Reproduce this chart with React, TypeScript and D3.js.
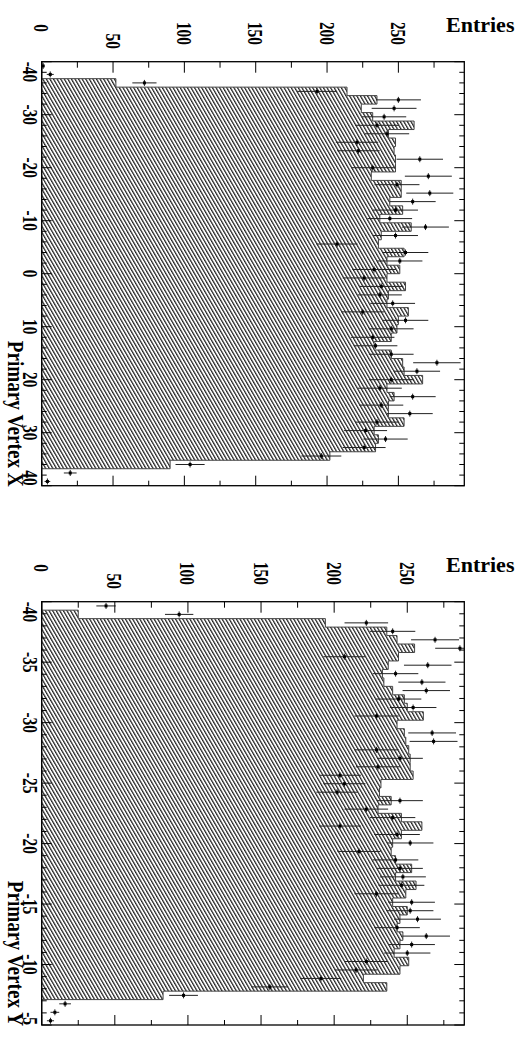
import React from "react";
import * as d3 from "d3";

// ---- data ----
const histVertexX = [0, 0, 52, 214, 235, 224, 232, 261, 243, 248, 247, 248, 248, 231, 252, 252, 244, 253, 237, 259, 238, 236, 254, 242, 251, 242, 255, 243, 242, 257, 250, 249, 245, 233, 245, 253, 254, 267, 242, 247, 243, 243, 254, 233, 236, 234, 202, 90, 0, 0];
const dataVertexX = [1, 6, 72, 193, 250, 247, 240, 235, 242, 221, 222, 265, 232, 271, 249, 272, 260, 248, 244, 269, 248, 207, 255, 251, 233, 226, 238, 237, 246, 225, 255, 245, 232, 234, 245, 277, 263, 245, 237, 260, 238, 258, 235, 227, 241, 226, 196, 104, 20, 4];
const histVertexY = [0, 25, 194, 236, 243, 255, 244, 237, 233, 234, 240, 248, 250, 261, 243, 248, 249, 251, 252, 252, 254, 232, 231, 239, 230, 246, 260, 246, 240, 239, 242, 253, 242, 256, 249, 240, 250, 245, 243, 247, 245, 241, 251, 245, 220, 236, 83, 0, 0, 0];
const dataVertexY = [44, 94, 222, 240, 269, 286, 207, 264, 242, 260, 263, 244, 254, 229, 300, 267, 268, 229, 245, 230, 204, 207, 202, 245, 222, 240, 204, 243, 252, 217, 242, 245, 247, 246, 229, 253, 252, 257, 243, 263, 253, 250, 222, 215, 191, 156, 97, 16, 9, 6];

const entriesMajorTicks = [0, 50, 100, 150, 200, 250];
const entriesMinorTicks = [25, 75, 125, 175, 225, 275];
const vertexXLabels = [-40, -30, -20, -10, 0, 10, 20, 30, 40];
const vertexYLabels = [-40, -35, -30, -25, -20, -15, -10, -5];

// layout: where each entries label ends (relative to panel top offset)
const entriesLabelEnd = [32, 49, 45, 45, 45, 45];

const FONT = "'Liberation Serif', 'Times New Roman', serif";
const FL = 41.7;
const FR = 464.3;

type Panel = {
  top: number; bottom: number; lo: number; hi: number; vmax: number;
  hist: number[]; data: number[]; labels: number[]; minorStep: number;
  title: string; id: string;
};

const panels: Panel[] = [
  { top: 61.7, bottom: 485.7, lo: -40, hi: 40, vmax: 296.2, hist: histVertexX, data: dataVertexX, labels: vertexXLabels, minorStep: 2, title: "Primary Vertex X", id: "p1" },
  { top: 601.7, bottom: 1025, lo: -40, hi: -5, vmax: 289, hist: histVertexY, data: dataVertexY, labels: vertexYLabels, minorStep: 1, title: "Primary Vertex Y", id: "p2" },
];

function PanelView({ p }: { p: Panel }) {
  const vScale = d3.scaleLinear().domain([0, p.vmax]).range([FL, FR]);
  const pScale = d3.scaleLinear().domain([p.lo, p.hi]).range([p.top, p.bottom]);
  const n = p.hist.length;
  const w = (p.hi - p.lo) / n;
  const edge = (i: number) => p.lo + i * w;

  const pts: [number, number][] = [[vScale(0), pScale(p.lo)]];
  p.hist.forEach((v, i) => {
    pts.push([vScale(v), pScale(edge(i))]);
    pts.push([vScale(v), pScale(edge(i + 1))]);
  });
  pts.push([vScale(0), pScale(p.hi)]);
  const histPath = (d3.line() as any)(pts) + "Z";

  const minorPos = d3.range(p.lo, p.hi + 1e-9, p.minorStep).filter((t) => !p.labels.includes(t));

  const tF = 22, tS = 0.7;
  const off = p.top - 61.7;
  const lastIdx = p.labels.length - 1;

  return (
    <g>
      <defs>
        <clipPath id={"clip" + p.id}>
          <rect x={FL} y={p.top} width={FR - FL} height={p.bottom - p.top} />
        </clipPath>
      </defs>
      <path d={histPath} fill="url(#hatch)" stroke="#444" strokeWidth={1} />
      <g clipPath={`url(#clip${p.id})`}>
        {p.data.map((v, i) => {
          if (v > p.vmax) return null;
          const c = pScale(edge(i) + w / 2);
          const e = Math.sqrt(v);
          const x = vScale(v);
          return (
            <g key={i}>
              <line x1={vScale(Math.max(0, v - e))} x2={vScale(v + e)} y1={c} y2={c} stroke="#222" strokeWidth={1} />
              <line x1={x} x2={x} y1={c - 3} y2={c + 3} stroke="#222" strokeWidth={1} />
              <rect x={x - 1.5} y={c - 1.5} width={3} height={3} fill="#000" />
            </g>
          );
        })}
      </g>
      <rect x={FL} y={p.top} width={FR - FL} height={p.bottom - p.top} fill="none" stroke="#000" strokeWidth={1.3} />
      {p.labels.map((t) => (
        <g key={"M" + t}>
          <line x1={FR} x2={FR - 10} y1={pScale(t)} y2={pScale(t)} stroke="#000" />
          <line x1={FL} x2={FL + 10} y1={pScale(t)} y2={pScale(t)} stroke="#000" />
        </g>
      ))}
      {minorPos.map((t) => (
        <g key={"m" + t}>
          <line x1={FR} x2={FR - 5} y1={pScale(t)} y2={pScale(t)} stroke="#000" />
          <line x1={FL} x2={FL + 5} y1={pScale(t)} y2={pScale(t)} stroke="#000" />
        </g>
      ))}
      {entriesMajorTicks.map((t) => (
        <g key={"E" + t}>
          <line x1={vScale(t)} x2={vScale(t)} y1={p.top} y2={p.top + 11} stroke="#000" />
          <line x1={vScale(t)} x2={vScale(t)} y1={p.bottom} y2={p.bottom - 10} stroke="#000" />
        </g>
      ))}
      {entriesMinorTicks.filter((t) => t < p.vmax).map((t) => (
        <g key={"e" + t}>
          <line x1={vScale(t)} x2={vScale(t)} y1={p.top} y2={p.top + 6} stroke="#000" />
          <line x1={vScale(t)} x2={vScale(t)} y1={p.bottom} y2={p.bottom - 5} stroke="#000" />
        </g>
      ))}
      {entriesMajorTicks.map((t, i) => (
        <text key={"lt" + t} transform={`translate(${vScale(t) - 0.34 * tF},${entriesLabelEnd[i] + off}) rotate(90) scale(${tS},1)`}
          textAnchor="end" fontSize={tF} fontWeight="bold" fontFamily={FONT}>{t}</text>
      ))}
      {p.labels.map((t, i) => {
        const anchor = i === 0 ? "start" : i === lastIdx ? "end" : "middle";
        return (
          <text key={"ll" + t} transform={`translate(23,${pScale(t)}) rotate(90) scale(${tS},1)`}
            textAnchor={anchor} fontSize={tF} fontWeight="bold" fontFamily={FONT}>{t}</text>
        );
      })}
      <text transform={`translate(8,${p.bottom + 1}) rotate(90) scale(0.8,1)`} textAnchor="end"
        fontSize={24} fontWeight="bold" fontFamily={FONT}>{p.title}</text>
      <text x={446} y={32 + off} fontSize={22} fontWeight="bold" fontFamily={FONT}>Entries</text>
    </g>
  );
}

export default function App() {
  return (
    <svg width={523} height={1037} style={{ position: "absolute", left: 0, top: 0, background: "#fff" }}>
      <defs>
        <pattern id="hatch" patternUnits="userSpaceOnUse" width={3.1} height={10} patternTransform="rotate(-30)">
          <rect width={3.1} height={10} fill="#fff" />
          <line x1={0.6} y1={0} x2={0.6} y2={10} stroke="#222" strokeWidth={1.3} />
        </pattern>
      </defs>
      <rect width={523} height={1037} fill="#fff" />
      {panels.map((p) => <PanelView key={p.id} p={p} />)}
    </svg>
  );
}
